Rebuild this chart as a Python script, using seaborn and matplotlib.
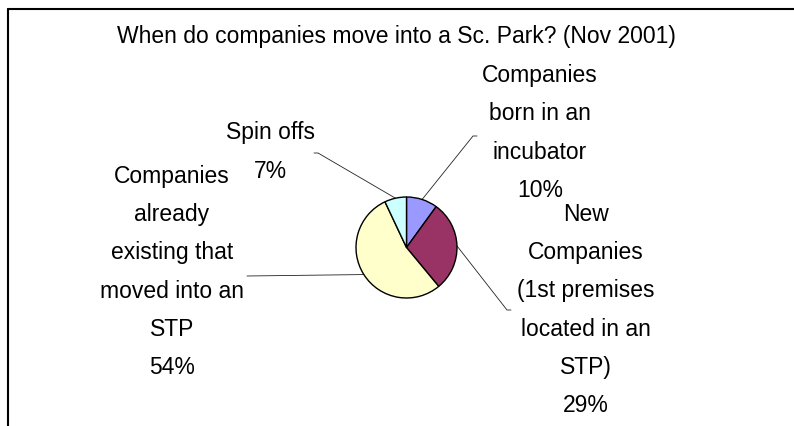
import numpy as np
import matplotlib
matplotlib.use("Agg")
import matplotlib.pyplot as plt
import seaborn as sns

# ── Data ─────────────────────────────────────────────────────────────────────
TITLE = "When do companies move into a Sc. Park? (Nov 2001)"
categories = [
    "Companies\nborn in an\nincubator",
    "New\nCompanies\n(1st premises\nlocated in an\nSTP)",
    "Companies\nalready\nexisting that\nmoved into an\nSTP",
    "Spin offs",
]
shares = [10, 29, 54, 7]
colors = sns.color_palette(["#9999FF", "#993366", "#FFFFCC", "#CCFFFF"])

sns.set_theme(style="white")
plt.rcParams["font.family"] = ["Liberation Sans", "DejaVu Sans"]

W, H = 794, 426
fig = plt.figure(figsize=(W / 100, H / 100), dpi=100)
ax = fig.add_axes([0, 0, 1, 1])

# pie in pixel-like coordinates (y grows downwards)
cx, cy, r = 406.5, 247.5, 50.5
wedges, _ = ax.pie(shares, colors=colors, center=(cx, cy), radius=r,
                   startangle=-90, counterclock=True, frame=True,
                   wedgeprops={"edgecolor": "black", "linewidth": 1.0})
ax.set_xlim(0, W)
ax.set_ylim(H, 0)
ax.axis("off")

# labels + leader lines (label centre, leader end, tick end)
label_pos = [(540, 133), (586, 310), (172, 272), (270, 152)]
leader_end = [(473, 136), (507, 310), (247, 276), (318, 153)]
tick_end = [(477, 136), (511, 310), (247, 276), (314, 153)]

cum = np.cumsum([0] + shares)
for i, (lab, val) in enumerate(zip(categories, shares)):
    mid = 90 - (cum[i] + val / 2) / 100 * 360
    sx = cx + r * np.cos(np.radians(mid))
    sy = cy - r * np.sin(np.radians(mid))
    ex, ey = leader_end[i]
    tx, ty = tick_end[i]
    ax.plot([sx, ex, tx], [sy, ey, ty], color="#222222", linewidth=0.6,
            zorder=0)
    ax.text(label_pos[i][0], label_pos[i][1], f"{lab}\n{val}%",
            ha="center", va="center", multialignment="center",
            fontsize=16.5, linespacing=1.85, color="black")

ax.text(396, 37, TITLE, ha="center", va="center", fontsize=16.5,
        color="black")

# chart frame (only top and left edges are visible)
ax.plot([8, W + 5], [9, 9], color="black", linewidth=1.5, clip_on=False)
ax.plot([8, 8], [9, H + 5], color="black", linewidth=1.5, clip_on=False)

plt.savefig("out.png", dpi=100)
plt.close()
